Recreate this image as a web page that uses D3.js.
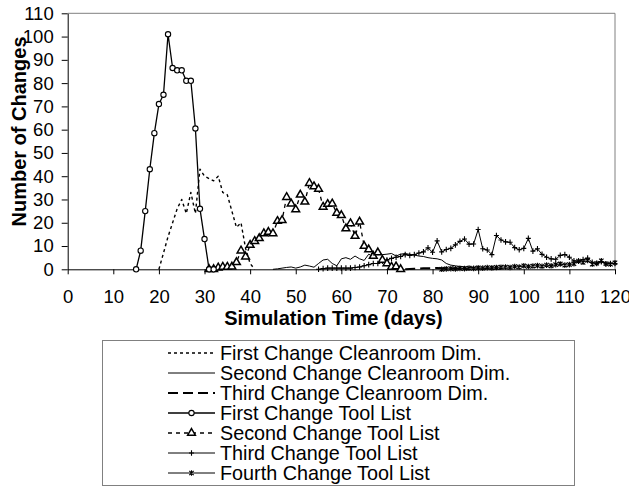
<!DOCTYPE html>
<html>
<head>
<meta charset="utf-8">
<script src="https://cdn.jsdelivr.net/npm/d3@7"></script>
<style>
  body { margin: 0; background: #fff; }
  svg { display: block; font-family: Arial, "Liberation Sans", sans-serif; }
</style>
</head>
<body>
<svg id="chart" width="629" height="487"></svg>
<script>
// axis ticks
const xTicks = [0, 10, 20, 30, 40, 50, 60, 70, 80, 90, 100, 110, 120];
const yTicks = [0, 10, 20, 30, 40, 50, 60, 70, 80, 90, 100, 110];

// legend labels, in legend order
const seriesNames = [
  "First Change Cleanroom Dim.",
  "Second Change Cleanroom Dim.",
  "Third Change Cleanroom Dim.",
  "First Change Tool List",
  "Second Change Tool List",
  "Third Change Tool List",
  "Fourth Change Tool List"
];

// first simulated day of each series (one value per day after that)
const startDays = [20, 45, 74, 15, 31, 55, 82];

// series values
const firstCleanroom = [0, 7, 14, 20, 26, 30, 24, 33, 24, 43, 40, 39, 38, 40, 33, 32, 25, 18, 20, 9, 2.5, 0];
const secondCleanroom = [0, 0.2, 0.5, 0.8, 1, 0.5, 1, 1.8, 1.4, 0.9, 2.5, 4, 4.3, 2.5, 1.5, 4.5, 5, 4.3, 5.7, 4.5,
  3.8, 6.5, 5.4, 7, 6.3, 6.5, 6.8, 5.7, 6.5, 6.8, 6.4, 6.1, 5.7, 5.5, 5, 4.7, 4.5, 4, 2.5, 1.8,
  1.5, 1.2, 1.1, 0.9, 0.7, 0.5, 0.4, 0.3, 0.2, 0.1, 0];
const thirdCleanroom = [0, 0.1, 0.2, 0.3, 0.4, 0.5, 0.5, 0.6, 0.5, 0.4, 0.3, 0.3, 0.2, 0.1, 0];
const firstTool = [0, 8, 25, 43, 58.5, 71, 75, 101, 86.5, 85.5, 85.5, 81, 81, 60.5, 26, 13, 0, 0];
const secondTool = [0, 0, 0.7, 1, 1, 1.1, 3, 8, 5.4, 10.4, 12.1, 13.3, 15.4, 16, 15.4, 20.7, 21.1, 31, 28.2, 25.7,
  32, 29, 37, 35.6, 34.5, 26.8, 28, 28.2, 24.2, 23.2, 17.5, 19.7, 14.3, 20.4, 10, 8.5, 5.7, 7.2, 4, 2.5,
  1, 1.2, 0];
const thirdTool = [0, 0.3, 0.5, 0.5, 0.5, 0.5, 0.5, 0.5, 0.8, 1, 1.5, 2, 2.5, 2.5, 3.5, 4, 4.7, 5.2, 5.5, 6.3,
  6, 6.3, 7, 7.5, 9.2, 7.3, 12.2, 7.5, 8.5, 9, 10.5, 12, 13, 10.8, 10.9, 17.1, 8.8, 8.3, 6.3, 14.5,
  12.6, 11.8, 11.6, 9.3, 8.4, 9, 13.3, 7.8, 8.8, 6.4, 5.2, 4.5, 4.3, 6, 6.3, 5.2, 3.6, 3.5, 4.2, 4.8,
  3, 2.5, 3.3, 2.3, 2.5, 2.5];
const fourthTool = [0, 0.2, 0.3, 0.2, 0.4, 0.3, 0.5, 0.4, 0.6, 0.5, 0.7, 0.6, 0.8, 0.9, 1, 0.8, 1.2, 1, 1.5, 1.2,
  1.4, 1.6, 1.3, 1.8, 1.5, 2, 2.3, 1.8, 2, 2.4, 3.5, 3, 3.8, 2.2, 2.6, 3.6, 2.4, 2.2, 2.8];

const seriesValues = [firstCleanroom, secondCleanroom, thirdCleanroom, firstTool, secondTool, thirdTool, fourthTool];

// line look per series
const dashes = ["3,3", null, "10,5", null, "4,4", null, null];
const widths = [1.4, 1, 2, 1.3, 1.3, 1, 1];
const markers = [null, null, null, "circle", "triangle", "plus", "star"];

const svg = d3.select("#chart");

const x = d3.scaleLinear().domain([0, 120]).range([67.7, 615]);
const y = d3.scaleLinear().domain([0, 110]).range([269.3, 13.3]);

// plot frame (top / right in grey)
svg.append("path")
  .attr("d", `M${x(0)},${y(110)}H${x(120)}V${y(0)}`)
  .attr("fill", "none").attr("stroke", "#808080").attr("stroke-width", 1);

// axes
const gx = svg.append("g")
  .attr("transform", `translate(0,${y(0)})`)
  .call(d3.axisBottom(x).tickValues(xTicks).tickSize(5).tickPadding(16).tickSizeOuter(0));
const gy = svg.append("g")
  .attr("transform", `translate(${x(0)},0)`)
  .call(d3.axisLeft(y).tickValues(yTicks).tickSize(6).tickPadding(8).tickSizeOuter(0));

[gx, gy].forEach(g => {
  g.selectAll("text").attr("font-size", 18.5).attr("font-family", "Arial, 'Liberation Sans', sans-serif").attr("fill", "#000");
  g.selectAll("line, path").attr("stroke", "#000");
});

// axis titles
svg.append("text")
  .attr("transform", "translate(26,131.5) rotate(-90)")
  .attr("text-anchor", "middle")
  .attr("font-size", 20).attr("font-weight", "bold")
  .text("Number of Changes");

svg.append("text")
  .attr("x", 333.5).attr("y", 325)
  .attr("text-anchor", "middle")
  .attr("font-size", 20).attr("font-weight", "bold")
  .text("Simulation Time (days)");

// markers
function markerPath(kind) {
  if (kind === "circle") return d3.symbol(d3.symbolCircle, 22)();
  if (kind === "triangle") return d3.symbol(d3.symbolTriangle, 26)();
  if (kind === "plus") return "M-2.5,0H2.5M0,-2.8V2.8";
  if (kind === "star") return "M-2.2,-2.2L2.2,2.2M-2.2,2.2L2.2,-2.2M0,-2.8V2.8";
  return null;
}

function drawMarker(g, kind) {
  g.append("path")
    .attr("d", markerPath(kind))
    .attr("fill", kind === "circle" || kind === "triangle" ? "#fff" : "none")
    .attr("stroke", "#000")
    .attr("stroke-width", kind === "triangle" ? 1.5 : 1.1);
}

const line = d3.line().x(d => x(d[0])).y(d => y(d[1]));

// draw the flat, low series first so the peaks sit on top
const drawOrder = [6, 5, 2, 1, 0, 4, 3];
drawOrder.forEach(i => {
  const pts = seriesValues[i].map((v, k) => [startDays[i] + k, v]);
  const g = svg.append("g");
  g.append("path")
    .attr("d", line(pts))
    .attr("fill", "none")
    .attr("stroke", "#000")
    .attr("stroke-width", widths[i])
    .attr("stroke-dasharray", dashes[i])
    .attr("stroke-linejoin", "round");
  if (markers[i]) {
    pts.forEach(p => {
      const m = g.append("g").attr("transform", `translate(${x(p[0])},${y(p[1])})`);
      drawMarker(m, markers[i]);
    });
  }
});

// legend
const legend = svg.append("g");
legend.append("rect")
  .attr("x", 102.5).attr("y", 340.5).attr("width", 472).attr("height", 145)
  .attr("fill", "#fff").attr("stroke", "#808080").attr("stroke-width", 1);

seriesNames.forEach((name, i) => {
  const cy = 353 + i * 20;
  legend.append("line")
    .attr("x1", 168).attr("x2", 215).attr("y1", cy).attr("y2", cy)
    .attr("stroke", "#000")
    .attr("stroke-width", widths[i])
    .attr("stroke-dasharray", dashes[i]);
  if (markers[i]) {
    const m = legend.append("g").attr("transform", `translate(191.5,${cy})`);
    drawMarker(m, markers[i]);
  }
  legend.append("text")
    .attr("x", 220).attr("y", cy)
    .attr("dy", "0.36em")
    .attr("font-size", 19.8)
    .text(name);
});
</script>
</body>
</html>
